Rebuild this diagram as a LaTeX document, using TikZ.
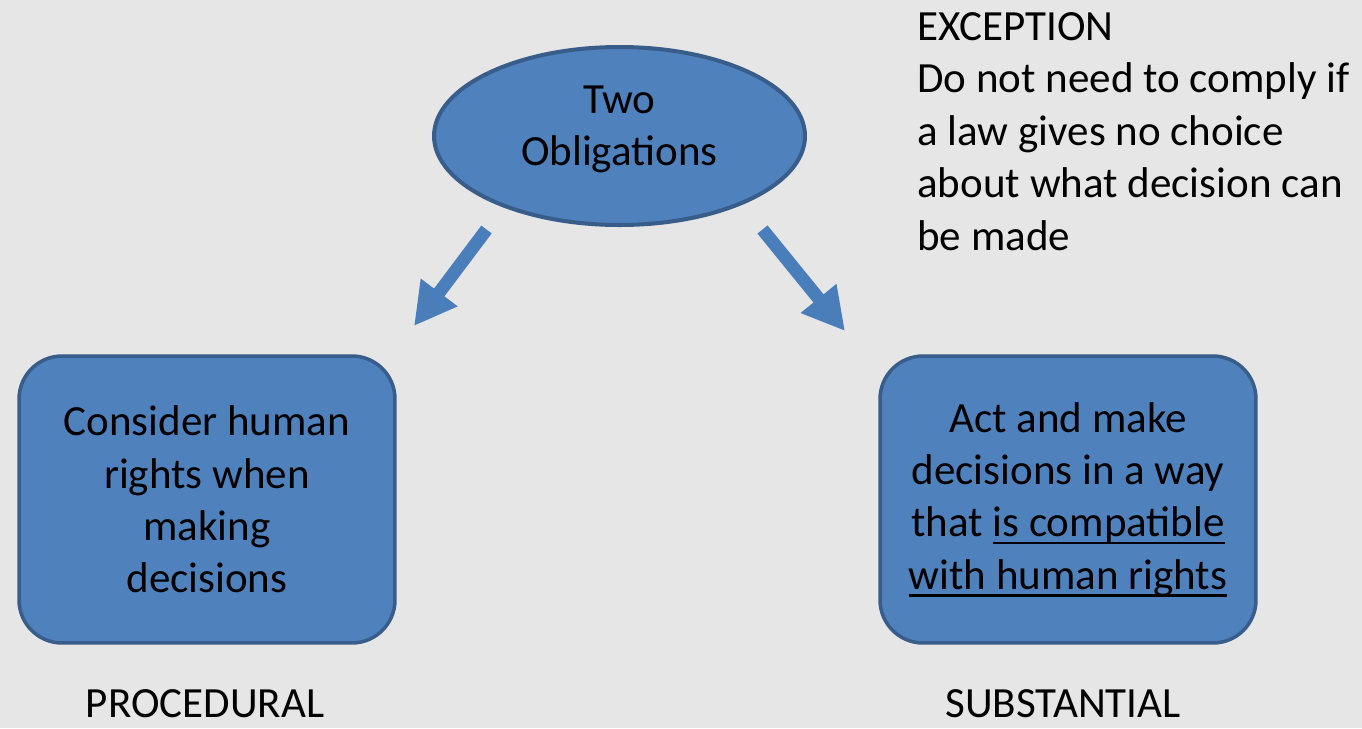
\documentclass[tikz,border=0pt]{standalone}
\usepackage{fontspec}
\setmainfont{Carlito}
\usepackage{tikz}
\usetikzlibrary{shapes.geometric, arrows.meta, positioning}
\definecolor{myblue}{RGB}{79,129,189}
\definecolor{myedge}{RGB}{56,93,138}
\definecolor{myarrow}{RGB}{74,126,187}
\definecolor{mybg}{RGB}{230,230,230}
\newcommand{\bigfont}{\fontsize{24.5}{29.8}\selectfont}
\newcommand{\ulwords}[1]{\setbox0\hbox{#1}\rlap{\rule[-4.2pt]{\wd0}{1.4pt}}\box0}
\tikzset{
  oval/.style={ellipse, draw=myedge, fill=myblue, line width=2.3pt,
    minimum width=7.42cm, minimum height=3.56cm, inner sep=0pt,
    align=center, font=\bigfont},
  box/.style={rectangle, draw=myedge, fill=myblue, rounded corners=0.86cm,
    line width=2pt, minimum width=7.52cm, minimum height=5.74cm,
    align=center, font=\bigfont},
  tag/.style={font=\bigfont, inner sep=0pt},
  bigarrow/.style={-{Triangle[width=0.86cm, length=0.84cm]},
    line width=0.26cm, color=myarrow}
}

\begin{document}
\begin{tikzpicture}[x=0.02cm, y=-0.02cm]
  \fill[mybg] (0,0) rectangle (1362,728);

  % Main shapes
  \node[oval, text depth=0.42cm] (two) at (619.5,136) {Two\\Obligations};
  \node[box] (proc) at (207,499.5) {Consider human\\rights when\\making\\decisions};
  \node[box] (subs) at (1068,499.5) {Act and make\\decisions in a way\\that \ulwords{is compatible}\\\ulwords{with human rights}};

  % Labels
  \node[tag, align=left, anchor=north west] (exc) at (917,12.3) {EXCEPTION\\Do not need to comply if\\a law gives no choice\\about what decision can\\be made};
  \node[tag, anchor=base] (proclab) at (205,717) {PROCEDURAL};
  \node[tag, anchor=base] (subslab) at (1063,717) {SUBSTANTIAL};

  % Arrows
  \coordinate (ltail) at (486.5,229.5);
  \coordinate (lhead) at (414,326);
  \coordinate (rtail) at (762.5,229.5);
  \coordinate (rhead) at (845,331);
  \draw[bigarrow] (ltail) -- (lhead);
  \draw[bigarrow] (rtail) -- (rhead);
\end{tikzpicture}
\end{document}
